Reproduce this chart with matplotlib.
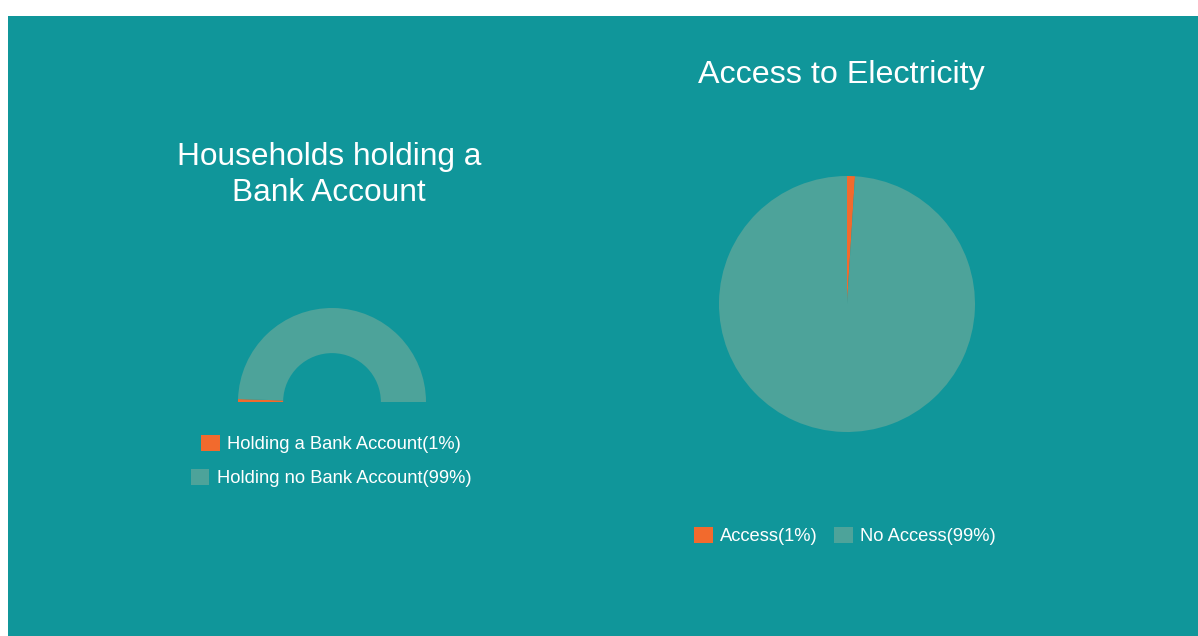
import numpy as np
import matplotlib.pyplot as plt

# chart data
bank_labels = ['Holding a Bank Account(1%)', 'Holding no Bank Account(99%)']
bank_values = [1, 99]
elec_labels = ['Access(1%)', 'No Access(99%)']
elec_values = [1, 99]

ORANGE = '#F26A2D'
SLICE = '#4DA39A'
BG = '#10969A'
W, H = 1198, 636

plt.rcParams['font.family'] = ['Liberation Sans', 'DejaVu Sans']

fig = plt.figure(figsize=(W / 100, H / 100), dpi=100, facecolor='white')

# teal panel (white strip on top and left like the screenshot)
fig.patches.append(plt.Rectangle((8 / W, 0), 1 - 8 / W, 1 - 16 / H,
                                 transform=fig.transFigure, facecolor=BG,
                                 edgecolor='none', zorder=-5))


def px_axes(cx, cy, r):
    """square axes centred on (cx, cy) in screen pixels, radius r"""
    ax = fig.add_axes([(cx - r) / W, 1 - (cy + r) / H, 2 * r / W, 2 * r / H])
    ax.set_zorder(2)
    ax.patch.set_visible(False)
    ax.axis('off')
    return ax


# ---- half donut: bank accounts ----
ax1 = px_axes(332, 402, 94)
frac = np.array(bank_values) / sum(bank_values) / 2
w1, _ = ax1.pie(frac, normalize=False, startangle=180, counterclock=False,
                colors=[ORANGE, SLICE], radius=1,
                wedgeprops=dict(width=0.48, linewidth=0))
ax1.set_xlim(-1, 1)
ax1.set_ylim(-1, 1)
ax1.set_aspect('equal')

fig.text(329 / W, 1 - 175 / H, 'Households holding a\nBank Account',
         ha='center', va='center', fontsize=22.8, color='white',
         linespacing=1.26)

leg_kw = dict(frameon=False, fontsize=13.2, labelcolor='white',
              handlelength=1.0, handleheight=1.0, handletextpad=0.4,
              borderpad=0, borderaxespad=0)
fig.legend([w1[0]], [bank_labels[0]], loc='center',
           bbox_to_anchor=(331 / W, 1 - 444 / H), **leg_kw)
fig.legend([w1[1]], [bank_labels[1]], loc='center',
           bbox_to_anchor=(331 / W, 1 - 478 / H), **leg_kw)

# ---- pie: electricity ----
ax2 = px_axes(847, 304, 128)
w2, _ = ax2.pie(elec_values, startangle=90, counterclock=False,
                colors=[ORANGE, SLICE], radius=1,
                wedgeprops=dict(linewidth=0))
ax2.set_xlim(-1, 1)
ax2.set_ylim(-1, 1)
ax2.set_aspect('equal')

fig.text(841 / W, 1 - 75 / H, 'Access to Electricity', ha='center',
         va='center', fontsize=23.2, color='white')

fig.legend(w2, elec_labels, loc='center', ncol=2, columnspacing=0.9,
           bbox_to_anchor=(845 / W, 1 - 536 / H), **leg_kw)

fig.savefig('out.png', dpi=100, facecolor='white')
